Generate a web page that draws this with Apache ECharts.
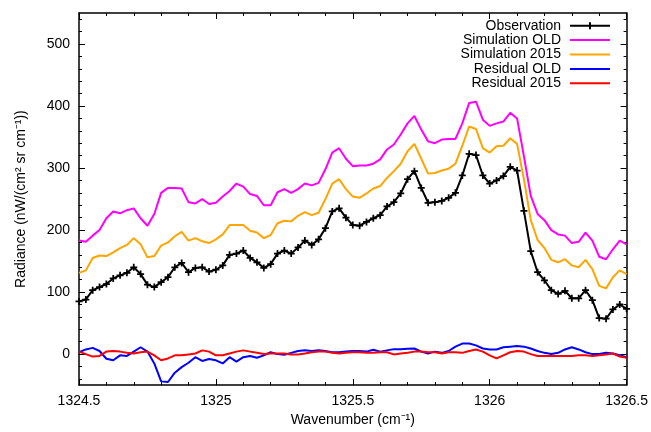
<!DOCTYPE html>
<html>
<head>
<meta charset="utf-8">
<script src="https://cdn.jsdelivr.net/npm/echarts@6/dist/echarts.min.js"></script>
<style>
  html, body { margin: 0; padding: 0; background: #fff; }
  #chart { width: 651px; height: 432px; }
</style>
</head>
<body>
<div id="chart"></div>
<script>
// wavenumber grid (cm-1)
const wavenumber = [
  1324.5, 1324.525, 1324.55, 1324.575, 1324.6, 1324.625, 1324.65, 1324.675, 1324.7, 1324.725,
  1324.75, 1324.775, 1324.8, 1324.825, 1324.85, 1324.875, 1324.9, 1324.925, 1324.95, 1324.975,
  1325, 1325.025, 1325.05, 1325.075, 1325.1, 1325.125, 1325.15, 1325.175, 1325.2, 1325.225,
  1325.25, 1325.275, 1325.3, 1325.325, 1325.35, 1325.375, 1325.4, 1325.425, 1325.45, 1325.475,
  1325.5, 1325.525, 1325.55, 1325.575, 1325.6, 1325.625, 1325.65, 1325.675, 1325.7, 1325.725,
  1325.75, 1325.775, 1325.8, 1325.825, 1325.85, 1325.875, 1325.9, 1325.925, 1325.95, 1325.975,
  1326, 1326.025, 1326.05, 1326.075, 1326.1, 1326.125, 1326.15, 1326.175, 1326.2, 1326.225,
  1326.25, 1326.275, 1326.3, 1326.325, 1326.35, 1326.375, 1326.4, 1326.425, 1326.45, 1326.475,
  1326.5
]

const observation = [
  85, 88, 103, 108, 113, 122, 127, 131, 140, 129,
  112, 108, 116, 124, 140, 147, 132, 139, 140, 133,
  136, 143, 160, 162, 167, 155, 148, 139, 145, 162,
  167, 162, 172, 183, 176, 185, 203, 230, 235, 220,
  208, 207, 213, 219, 224, 238, 245, 259, 282, 295,
  268, 244, 245, 247, 252, 260, 288, 323, 321, 288,
  275, 280, 287, 302, 296, 231, 166, 132, 119, 103,
  97, 102, 90, 90, 103, 87, 58, 57, 72, 80,
  73
]

const simulationOld = [
  183, 181, 191, 200, 219, 230, 227, 232, 235, 219,
  207, 226, 260, 268, 268, 267, 245, 243, 250, 242,
  244, 254, 263, 275, 270, 258, 255, 240, 240, 261,
  266, 260, 266, 275, 272, 276, 298, 325, 332, 315,
  303, 304, 304, 307, 314, 330, 338, 354, 372, 384,
  362, 343, 340, 346, 347, 347, 372, 405, 407, 378,
  368, 372, 375, 389, 380, 319, 255, 226, 216, 200,
  193, 191, 179, 181, 196, 183, 157, 153, 169, 183,
  177
]

const simulation2015 = [
  131, 135, 155, 159, 158, 164, 171, 176, 187, 177,
  156, 158, 175, 180, 190, 197, 183, 187, 182, 179,
  185, 193, 208, 208, 208, 199, 196, 187, 192, 211,
  215, 214, 223, 229, 224, 228, 250, 275, 282, 266,
  254, 252, 259, 267, 271, 284, 295, 307, 327, 339,
  315, 291, 292, 296, 299, 307, 336, 367, 363, 332,
  325, 335, 336, 348, 339, 282, 216, 184, 171, 152,
  148, 153, 143, 140, 152, 137, 110, 106, 124, 135,
  129
]

const residualOld = [
  3, 7.5, 10, 5, -7.5, -10, -2, -3, 4, 11,
  4, -15, -44, -45, -30, -21, -14, -5, -11, -8,
  -10, -15, -5, -12, -5, -3, -6, -2, 3, 0,
  -1, 2, 5, 6, 5, 6, 5, 3, 3, 4,
  5, 5, 4, 7, 4, 6, 8, 8, 8.5, 9,
  4, 1, 4, 2, 5, 12, 17, 17, 14, 9,
  7.5, 7.5, 11, 12, 13, 12, 9, 5, 2, 0,
  2, 7.5, 11, 7.5, 3, 0, 0, 2, 1, -2,
  -5
]

const residual2015 = [
  4, 0, -4, -3, 4, 5, 4, 2, 1, 3,
  4, -2, -10, -7, -2, -2, -0.5, 1, 6, 4,
  -2, -2, 1, 4, 6, 4, 2, 0, 1, 1,
  1, -0.5, -0.5, 1, 3, 4, 4, 2, 1, 2,
  3, 3, 2, 2, 3, 3, -0.5, 1, 2, 4,
  4, 3, 3, 1, 3, 3, 2, 5, 7.5, 4,
  -2, -7, -2, 3, 5, 4, 0, -3, -3, -3,
  -3, -3, -3, -2, -2, -3, -2, -0.5, 1, -4,
  -6
]

const yTickLabels = [0, 100, 200, 300, 400, 500]

const FONT = '"Liberation Sans", Arial, Helvetica, sans-serif'

// minor ticks every 20 on the y axis, skipping the labelled ones
const yMinorTicks = []
for (let v = -40; v <= 540; v += 20) {
  if (v % 100 !== 0) yMinorTicks.push(v)
}

// legend icons drawn in a 40x10 box (corner points keep the box size)
const ICON_LINE = 'path://M0,0H0V0Z M0,4H40V6H0Z M40,10H40V10Z'
const ICON_PLUS = 'path://M0,0H0V0Z M0,4H40V6H0Z M19,1.5H21V8.5H19Z M40,10H40V10Z'

const pairs = (ys) => wavenumber.map((x, i) => [x, ys[i]])

const xAxisBase = (pos, withLabels) => ({
  type: 'value',
  position: pos,
  min: 1324.5,
  max: 1326.5,
  interval: 0.5,
  axisLine: { show: true, onZero: false, lineStyle: { color: '#000', width: 1.5 } },
  axisTick: { show: true, inside: true, length: 6, lineStyle: { color: '#000', width: 1 } },
  minorTick: { show: true, splitNumber: 5, length: 3, lineStyle: { color: '#000', width: 1 } },
  axisLabel: {
    show: withLabels, color: '#000', fontSize: 14, fontFamily: FONT, margin: 9,
    formatter: (v) => String(v)
  },
  splitLine: { show: false },
  minorSplitLine: { show: false }
})

const yAxisBase = (pos, major) => ({
  type: 'value',
  position: pos,
  min: -50,
  max: 550,
  axisLine: { show: major, onZero: false, lineStyle: { color: '#000', width: 1.5 } },
  axisTick: {
    show: true, inside: true, length: major ? 6 : 3,
    customValues: major ? yTickLabels : yMinorTicks,
    lineStyle: { color: '#000', width: 1 }
  },
  axisLabel: { show: false },
  splitLine: { show: false }
})

const chart = echarts.init(document.getElementById('chart'))

const yLeft = yAxisBase('left', true)
yLeft.axisLabel = {
  show: true, color: '#000', fontSize: 14, fontFamily: FONT, margin: 9,
  customValues: yTickLabels
}
yLeft.name = 'Radiance (nW/(cm\u00B2 sr cm\u207B\u00B9))'
yLeft.nameLocation = 'middle'
yLeft.nameGap = 51
yLeft.nameTextStyle = { color: '#000', fontSize: 14, fontFamily: FONT }

const xBottom = xAxisBase('bottom', true)
xBottom.name = 'Wavenumber (cm\u207B\u00B9)'
xBottom.nameLocation = 'middle'
xBottom.nameGap = 26
xBottom.nameTextStyle = { color: '#000', fontSize: 14, fontFamily: FONT }

const lineSeries = (name, ys, color, extra) => Object.assign({
  name: name,
  type: 'line',
  xAxisIndex: 0,
  yAxisIndex: 0,
  data: pairs(ys),
  symbol: 'none',
  lineStyle: { color: color, width: 2 },
  itemStyle: { color: color },
  emphasis: { disabled: true }
}, extra || {})

const option = {
  animation: false,
  backgroundColor: '#fff',
  textStyle: { fontFamily: FONT },
  grid: { left: 79, right: 24, top: 13, bottom: 45, containLabel: false },
  legend: {
    orient: 'vertical',
    right: 41,
    top: 18.5,
    align: 'right',
    padding: 0,
    itemGap: 0,
    itemWidth: 40,
    itemHeight: 10,
    selectedMode: false,
    textStyle: { color: '#000', fontSize: 14, lineHeight: 14.4, fontFamily: FONT, padding: [0, 4, 0, 0] },
    data: [
      { name: 'Observation', icon: ICON_PLUS },
      { name: 'Simulation OLD', icon: ICON_LINE },
      { name: 'Simulation 2015', icon: ICON_LINE },
      { name: 'Residual OLD', icon: ICON_LINE },
      { name: 'Residual 2015', icon: ICON_LINE }
    ]
  },
  xAxis: [xBottom, xAxisBase('top', false)],
  yAxis: [yLeft, yAxisBase('left', false), yAxisBase('right', true), yAxisBase('right', false)],
  series: [
    lineSeries('Observation', observation, '#000', {
      symbol: 'path://M3,0H5V3H8V5H5V8H3V5H0V3H3Z',
      symbolSize: 7,
      showSymbol: true
    }),
    lineSeries('Simulation OLD', simulationOld, '#ff00ff'),
    lineSeries('Simulation 2015', simulation2015, '#ffa500'),
    lineSeries('Residual OLD', residualOld, '#0000ff'),
    lineSeries('Residual 2015', residual2015, '#ff0000')
  ]
}

chart.setOption(option)
</script>
</body>
</html>
